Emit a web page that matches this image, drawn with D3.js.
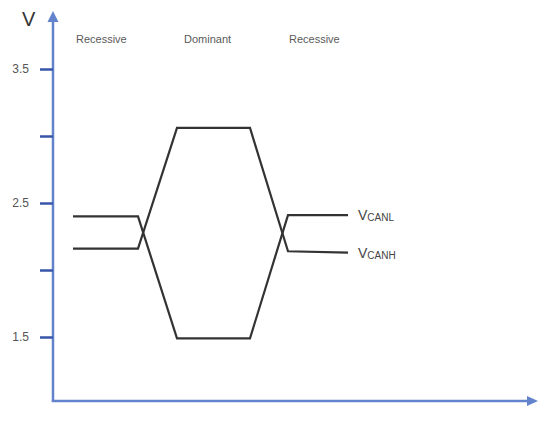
<!DOCTYPE html>
<html><head><meta charset="utf-8">
<script src="https://cdn.jsdelivr.net/npm/d3@7"></script>
<style>body{margin:0;background:#fff}svg{display:block}</style>
</head><body>
<script>
// time points (arbitrary units) and voltages
const timePoints = [20, 85, 124, 197, 235, 295];
const seriesUpperStart = [2.40, 2.40, 1.49, 1.49, 2.41, 2.41]; // ends as VCANL label row
const seriesLowerStart = [2.16, 2.16, 3.06, 3.06, 2.14, 2.13]; // ends as VCANH label row
const yTicks = [1.5, 2.0, 2.5, 3.0, 3.5];
const yTickLabels = ["1.5", "", "2.5", "", "3.5"];
const phaseLabels = ["Recessive", "Dominant", "Recessive"];
const phaseX = [23, 131, 236];
const seriesNames = [["V", "CANL"], ["V", "CANH"]];

const W = 539, H = 426;
const svg = d3.select("body").append("svg").attr("width", W).attr("height", H);

const x0 = 53, yAxisPix = 401;
const x = d3.scaleLinear().domain([0, 482]).range([53, 535]);
const y = d3.scaleLinear().domain([1.5, 3.5]).range([337, 69]);

const axisColor = "#6384cc", tickColor = "#3856a8";

// y axis line
svg.append("line").attr("x1", x0).attr("x2", x0).attr("y1", yAxisPix + 1).attr("y2", 20)
  .attr("stroke", axisColor).attr("stroke-width", 2.5);
svg.append("path").attr("d", `M${x0},11 L${x0-5.5},22 L${x0+5.5},22 Z`).attr("fill", axisColor);
// x axis line
svg.append("line").attr("x1", x0 - 1.2).attr("x2", 528).attr("y1", yAxisPix).attr("y2", yAxisPix)
  .attr("stroke", axisColor).attr("stroke-width", 2.5);
svg.append("path").attr("d", `M538,${yAxisPix} L527,${yAxisPix-5} L527,${yAxisPix+5} Z`).attr("fill", axisColor);

// ticks
const yAxis = d3.axisLeft(y).tickValues(yTicks).tickSize(13).tickPadding(11)
  .tickFormat((d, i) => yTickLabels[i]);
const gy = svg.append("g").attr("transform", `translate(${x0},0)`).call(yAxis);
gy.select(".domain").remove();
gy.selectAll(".tick line").attr("stroke", tickColor).attr("stroke-width", 2.5);
gy.selectAll(".tick text").attr("fill", "#555").attr("font-family", "Liberation Sans, Arial, sans-serif")
  .attr("font-size", 12);

// V label
svg.append("text").attr("x", 22).attr("y", 26).text("V").attr("font-family", "Liberation Sans, Arial, sans-serif")
  .attr("font-size", 20).attr("fill", "#333");

// phase labels
svg.selectAll(".phase").data(phaseLabels).enter().append("text")
  .attr("x", (d, i) => x(phaseX[i])).attr("y", 43).text(d => d)
  .attr("font-family", "Liberation Sans, Arial, sans-serif").attr("font-size", 11).attr("fill", "#5a5a5a");

// lines
const line = d3.line().x((d, i) => x(timePoints[i])).y(d => y(d));
[seriesUpperStart, seriesLowerStart].forEach(s => {
  svg.append("path").attr("d", line(s)).attr("fill", "none").attr("stroke", "#333")
    .attr("stroke-width", 2.2).attr("stroke-linejoin", "miter");
});

// series labels at right end
const ends = [seriesUpperStart[5], seriesLowerStart[5]];
seriesNames.forEach((n, i) => {
  const t = svg.append("text").attr("x", x(timePoints[5]) + 10).attr("y", y(ends[i]) + 5)
    .attr("font-family", "Liberation Sans, Arial, sans-serif").attr("fill", "#444");
  t.append("tspan").text(n[0]).attr("font-size", 14);
  t.append("tspan").text(n[1]).attr("font-size", 10).attr("dy", 1);
});
</script>
</body></html>
